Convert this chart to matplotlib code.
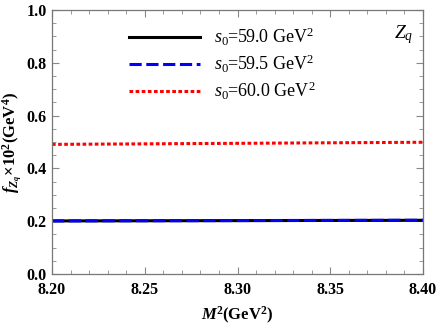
import matplotlib
matplotlib.use("Agg")
import matplotlib.pyplot as plt
from matplotlib.ticker import MultipleLocator

plt.rcParams['font.family'] = 'Liberation Serif'
plt.rcParams['mathtext.fontset'] = 'custom'
plt.rcParams['mathtext.rm'] = 'Liberation Serif'
plt.rcParams['mathtext.it'] = 'Liberation Serif:italic'
plt.rcParams['mathtext.bf'] = 'Liberation Serif:bold'
plt.rcParams['mathtext.bfit'] = 'Liberation Serif:italic:bold'

M2 = [8.20, 8.25, 8.30, 8.35, 8.40]
f_s59_0 = [0.2010, 0.2016, 0.2022, 0.2028, 0.2034]
f_s59_5 = [0.2012, 0.2018, 0.2024, 0.2030, 0.2036]
f_s60_0 = [0.4910, 0.4930, 0.4950, 0.4970, 0.4990]
labels = [r'$s_0$=59.0 GeV$^2$', r'$s_0$=59.5 GeV$^2$', r'$s_0$=60.0 GeV$^2$']
xticks = [8.20, 8.25, 8.30, 8.35, 8.40]
yticks = [0.0, 0.2, 0.4, 0.6, 0.8, 1.0]

fig = plt.figure(figsize=(4.36, 3.27), dpi=100)
ax = fig.add_axes([52/436, 1 - 274/327, (423-52)/436, (274-10)/327])

ax.plot(M2, f_s59_0, color='black', lw=2.2, ls='-', label=labels[0])
ax.plot(M2, f_s59_5, color='blue', lw=2.2, ls=(0, (4, 1.5)), label=labels[1])
ax.plot(M2, f_s60_0, color='red', lw=2.2, ls=(0, (1.2, 0.8)), label=labels[2])

ax.set_xlim(8.20, 8.40)
ax.set_ylim(0.0, 1.0)
ax.set_xticks(xticks)
ax.set_xticklabels([f'{v:.2f}' for v in xticks])
ax.set_yticks(yticks)
ax.set_yticklabels([f'{v:.1f}' for v in yticks])
ax.xaxis.set_minor_locator(MultipleLocator(0.01))
ax.yaxis.set_minor_locator(MultipleLocator(0.05))
ax.tick_params(which='both', direction='in', top=True, right=True, color='#888888')
ax.tick_params(which='major', length=5, width=0.8, labelsize=11.5)
ax.tick_params(axis='x', which='major', pad=6)
ax.tick_params(axis='y', which='major', pad=4)
ax.tick_params(which='minor', length=3, width=0.6)
for lab in ax.get_xticklabels() + ax.get_yticklabels():
    lab.set_fontweight('bold')
for sp in ax.spines.values():
    sp.set_color('#777777')
    sp.set_linewidth(0.9)

ax.set_xlabel(r'$\mathbfit{M}^\mathbf{2}$(GeV$^\mathbf{2}$)', fontsize=12, fontweight='bold', labelpad=5)
ax.set_ylabel(r'$\mathbfit{f}_{\mathbfit{Z_q}}\mathbf{\times 10^2}$(GeV$^\mathbf{4}$)', fontsize=12, fontweight='bold')
ax.yaxis.set_label_coords(-27/371, 0.5)

ax.text(0.975, 0.95, r'$Z_q$', transform=ax.transAxes, fontsize=14, ha='right', va='top')

leg = ax.legend(loc='upper left', bbox_to_anchor=(0.165, 1.0), frameon=False, fontsize=13,
                handlelength=3.9, handletextpad=0.8, labelspacing=0.25)

fig.savefig('out.png', dpi=100)
